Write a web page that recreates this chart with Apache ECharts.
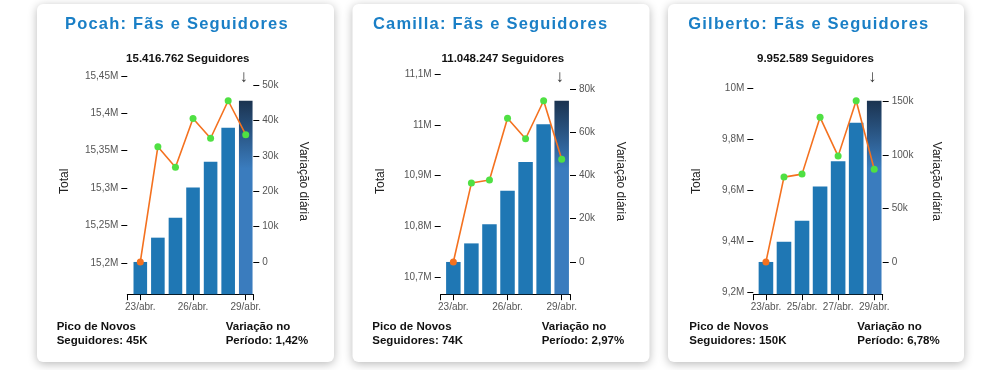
<!DOCTYPE html>
<html><head><meta charset="utf-8">
<script src="https://cdn.jsdelivr.net/npm/echarts@6/dist/echarts.min.js"></script>
<style>
html,body{margin:0;padding:0;background:#fff;}
#wrap{position:relative;width:1000px;height:370px;overflow:hidden;}
#c{position:absolute;left:0;top:0;width:1000px;height:370px;}
.ttl{position:absolute;top:13px;height:20px;line-height:20px;width:300px;text-align:center;white-space:nowrap;
 font-family:'Liberation Sans',Arial,Helvetica,sans-serif;font-weight:bold;font-size:16.5px;letter-spacing:1.2px;color:#1a7fc6;pointer-events:none;}
</style>
</head><body><div id="wrap"><div id="c"></div></div>
<script>
// ---- data ----
const dates = ['23/abr.', '24/abr.', '25/abr.', '26/abr.', '27/abr.', '28/abr.', '29/abr.'];
const artists = ['Pocah', 'Camilla', 'Gilberto'];
const pocahTotal = [15201100, 15233600, 15260400, 15300600, 15335200, 15380700, 15416762];
const pocahVar = [0, 32600, 26800, 40600, 35000, 45600, 36000];
const camillaTotal = [10729500, 10766200, 10804000, 10870500, 10927200, 11001800, 11048247];
const camillaVar = [0, 36500, 37900, 66500, 57000, 74600, 47500];
const gilbertoTotal = [9320600, 9399800, 9481800, 9616800, 9715600, 9866100, 9952589];
const gilbertoVar = [0, 79200, 82000, 135000, 98800, 150500, 86500];
const pocahLeftTicks = [15200000, 15250000, 15300000, 15350000, 15400000, 15450000];
const pocahRightTicks = [0, 10000, 20000, 30000, 40000, 50000];
const camillaLeftTicks = [10700000, 10800000, 10900000, 11000000, 11100000];
const camillaRightTicks = [0, 20000, 40000, 60000, 80000];
const gilbertoLeftTicks = [9200000, 9400000, 9600000, 9800000, 10000000];
const gilbertoRightTicks = [0, 50000, 100000, 150000];
const pocahDateTicks = [0, 3, 6];
const camillaDateTicks = [0, 3, 6];
const gilbertoDateTicks = [0, 2, 4, 6];
const peakTexts = ['45K', '74K', '150K'];
const changeTexts = ['1,42%', '2,97%', '6,78%'];

// ---- styling / layout ----
const FONT = "'Liberation Sans', Arial, Helvetica, sans-serif";
const BAR = '#1f77b4', ORANGE = '#f4711f', GREEN = '#4fe043';
const TOP = 68.5, H = 225.7;
const layout = [
  {card: 37, cardW: 297, left: 127.3, width: 126, xmin: -0.74, xmax: 6.43, bw: 13.6, gapL: 56.3, gapR: 44, titleX: 176.3, footL: 56.7, footR: 225.7},
  {card: 352.5, cardW: 297, left: 440.7, width: 129.3, xmin: -0.70, xmax: 6.46, bw: 14.5, gapL: 53.7, gapR: 44, titleX: 490, footL: 372.3, footR: 541.7},
  {card: 668, cardW: 296, left: 753.3, width: 129.4, xmin: -0.70, xmax: 6.47, bw: 14.6, gapL: 50.6, gapR: 48, titleX: 808.3, footL: 689.3, footR: 857.3}
];
const sets = [
  {totals: pocahTotal, vars: pocahVar, lt: pocahLeftTicks, rt: pocahRightTicks, dt: pocahDateTicks},
  {totals: camillaTotal, vars: camillaVar, lt: camillaLeftTicks, rt: camillaRightTicks, dt: camillaDateTicks},
  {totals: gilbertoTotal, vars: gilbertoVar, lt: gilbertoLeftTicks, rt: gilbertoRightTicks, dt: gilbertoDateTicks}
];

const fmtM = v => String(+(v / 1e6).toFixed(2)).replace('.', ',') + 'M';
const fmtK = v => v === 0 ? '0' : (v / 1000) + 'k';
const fmtInt = v => String(v).replace(/\B(?=(\d{3})+(?!\d))/g, '.');

const grid = [], xAxis = [], yAxis = [], series = [], graphic = [];
sets.forEach((s, i) => {
  const L = layout[i];
  const tMin = Math.min(...s.totals), tMax = Math.max(...s.totals), R = tMax - tMin;
  const vMax = Math.max(...s.vars);
  grid.push({left: L.left, top: TOP, width: L.width, height: H});
  xAxis.push({
    gridIndex: i, type: 'value', min: L.xmin, max: L.xmax,
    splitLine: {show: false},
    axisLine: {show: true, onZero: false, lineStyle: {color: '#000', width: 1}},
    axisTick: {show: true, inside: false, length: 6, customValues: [L.xmin].concat(s.dt, [L.xmax]), lineStyle: {color: '#000'}},
    axisLabel: {customValues: s.dt, formatter: v => dates[Math.round(v)], margin: 8, color: '#555', fontSize: 10, fontFamily: FONT}
  });
  yAxis.push({
    gridIndex: i, type: 'value', position: 'left', min: tMin - 0.2 * R, max: tMax + 0.2 * R,
    splitLine: {show: false}, axisLine: {show: false, onZero: false},
    axisTick: {show: true, inside: false, length: 6, customValues: s.lt, lineStyle: {color: '#000'}},
    axisLabel: {customValues: s.lt, formatter: fmtM, margin: 9, color: '#555', fontSize: 10, fontFamily: FONT},
    name: 'Total', nameLocation: 'middle', nameRotate: 90, nameGap: L.gapL,
    nameTextStyle: {color: '#222', fontSize: 12, fontFamily: FONT}
  });
  yAxis.push({
    gridIndex: i, type: 'value', position: 'right', min: -0.2 * vMax, max: 1.2 * vMax,
    splitLine: {show: false}, axisLine: {show: false, onZero: false},
    axisTick: {show: true, inside: false, length: 6, customValues: s.rt, lineStyle: {color: '#000'}},
    axisLabel: {customValues: s.rt, formatter: fmtK, margin: 9, color: '#555', fontSize: 10, fontFamily: FONT},
    name: 'Variação diária', nameLocation: 'middle', nameRotate: -90, nameGap: L.gapR,
    nameTextStyle: {color: '#222', fontSize: 12, fontFamily: FONT}
  });
  const last = s.totals.length - 1;
  series.push({
    type: 'bar', xAxisIndex: i, yAxisIndex: 2 * i, barWidth: L.bw, clip: true,
    itemStyle: {color: BAR},
    data: s.totals.map((v, j) => j === last ? {
      value: [j, v],
      itemStyle: {color: new echarts.graphic.LinearGradient(0, 0, 0, 1, [
        {offset: 0, color: '#1b3350'}, {offset: 0.35, color: '#3a7cbe'}, {offset: 1, color: '#3a7cbe'}])}
    } : {value: [j, v]}),
    markPoint: {
      symbol: 'circle', symbolSize: 0, silent: true, animation: false,
      label: {show: true, formatter: '↓', fontSize: 17, color: '#333', fontFamily: FONT, offset: [-2, -23]},
      data: [{coord: [last, s.totals[last]]}]
    },
    emphasis: {disabled: true}
  });
  series.push({
    type: 'line', xAxisIndex: i, yAxisIndex: 2 * i + 1, z: 3,
    symbol: 'circle', symbolSize: 7, clip: false,
    lineStyle: {color: ORANGE, width: 1.6},
    data: s.vars.map((v, j) => ({value: [j, v], itemStyle: {color: j === 0 ? ORANGE : GREEN}})),
    emphasis: {disabled: true}
  });
  graphic.push({type: 'rect', z: -10, shape: {x: L.card, y: 4, width: L.cardW, height: 358, r: 6},
    style: {fill: '#fff', shadowBlur: 10, shadowColor: 'rgba(0,0,0,0.28)', shadowOffsetY: 2}});
  graphic.push({type: 'text', z: 5, x: L.left + L.width / 2 - 2.5, y: 58.5,
    style: {text: fmtInt(s.totals[last]) + ' Seguidores', fill: '#111', font: 'bold 11.5px ' + FONT, align: 'center', verticalAlign: 'middle'}});
  graphic.push({type: 'text', z: 5, x: L.footL, y: 334.2,
    style: {text: 'Pico de Novos\nSeguidores: ' + peakTexts[i], fill: '#111', font: 'bold 11.5px ' + FONT, lineHeight: 14, align: 'left', verticalAlign: 'middle'}});
  graphic.push({type: 'text', z: 5, x: L.footR, y: 334.2,
    style: {text: 'Variação no\nPeríodo: ' + changeTexts[i], fill: '#111', font: 'bold 11.5px ' + FONT, lineHeight: 14, align: 'left', verticalAlign: 'middle'}});

  // card title (HTML text for letter spacing)
  const t = document.createElement('div');
  t.className = 'ttl';
  t.style.left = (L.titleX - 150 + 0.6) + 'px';
  t.textContent = artists[i] + ': Fãs e Seguidores';
  document.getElementById('wrap').appendChild(t);
});

const chart = echarts.init(document.getElementById('c'), null, {renderer: 'canvas'});
chart.setOption({
  animation: false,
  backgroundColor: '#fff',
  textStyle: {fontFamily: FONT},
  grid, xAxis, yAxis, series, graphic
});
</script>
</body></html>
